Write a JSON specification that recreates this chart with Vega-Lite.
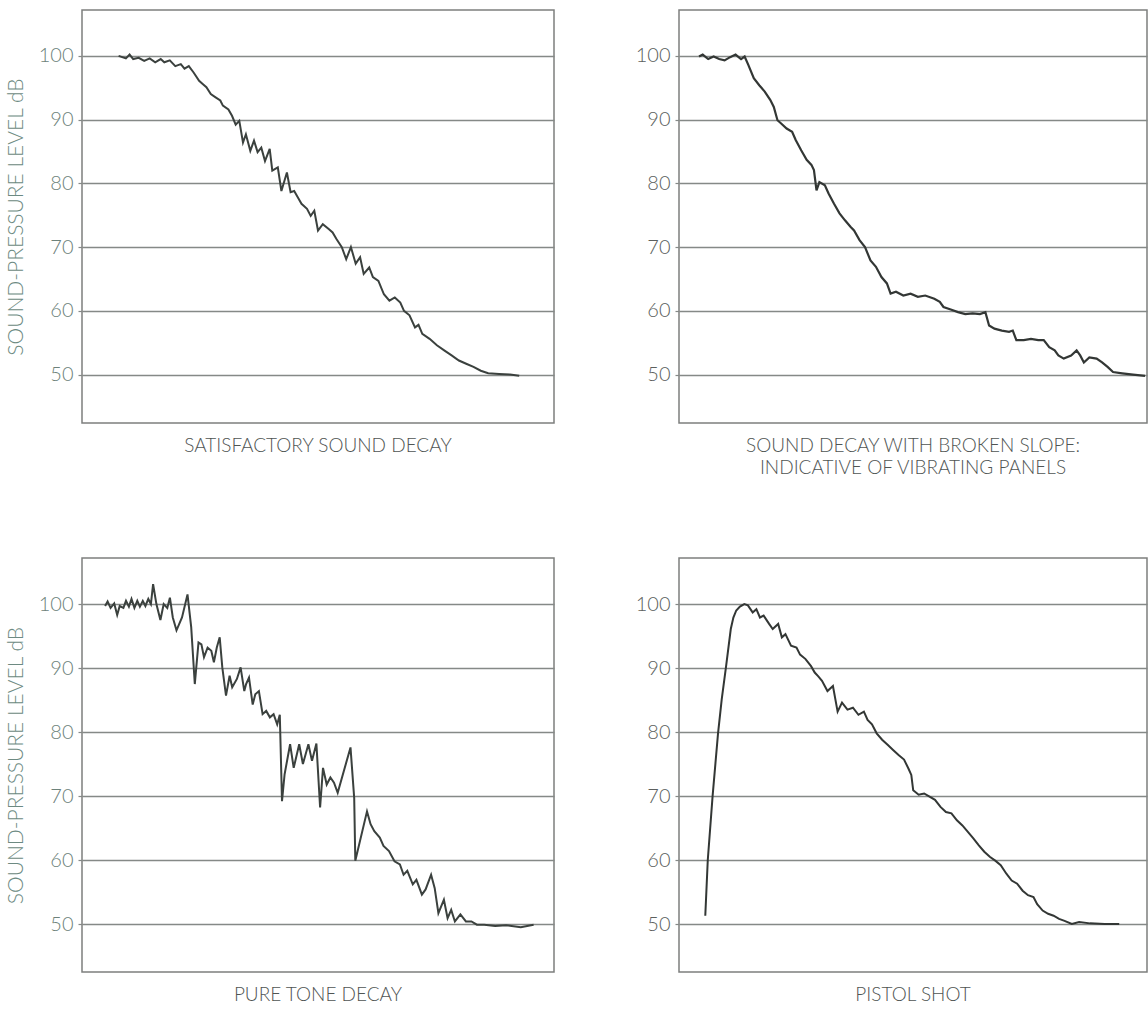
{
  "$schema": "https://vega.github.io/schema/vega-lite/v6.json",
  "padding": {"left": 4, "top": 9, "right": 0, "bottom": 0},
  "background": "white",
  "config": {
    "view": {"stroke": "#7d7f7e", "strokeWidth": 1.5},
    "axisY": {
      "grid": true,
      "gridColor": "#858987",
      "gridWidth": 1.6,
      "domain": false,
      "ticks": true,
      "tickSize": 4,
      "tickColor": "#858987",
      "tickWidth": 1.2,
      "labelPadding": 5,
      "labelFont": "Lato",
      "labelFontWeight": 300,
      "labelFontSize": 20,
      "titleFont": "Lato",
      "titleFontWeight": 300,
      "titleFontSize": 21,
      "titlePadding": 12
    },
    "title": {
      "orient": "bottom",
      "frame": "group",
      "anchor": "middle",
      "offset": 14,
      "font": "Lato",
      "fontWeight": 300,
      "fontSize": 19,
      "color": "#505553",
      "lineHeight": 22
    }
  },
  "datasets": {
    "p1": [
      {"x": 36.6, "y": 100.0}, {"x": 43.9, "y": 99.6}, {"x": 47.6, "y": 100.2}, {"x": 51.2, "y": 99.5}, {"x": 56.7, "y": 99.7}, {"x": 62.2, "y": 99.2}, {"x": 67.7, "y": 99.6}, {"x": 73.2, "y": 99.0}, {"x": 78.7, "y": 99.5}, {"x": 82.3, "y": 99.0}, {"x": 87.8, "y": 99.3}, {"x": 93.3, "y": 98.4}, {"x": 98.8, "y": 98.7}, {"x": 102.5, "y": 98.0}, {"x": 106.8, "y": 98.4}, {"x": 111.6, "y": 97.4}, {"x": 117.1, "y": 96.1}, {"x": 120.7, "y": 95.6}, {"x": 124.4, "y": 95.1}, {"x": 128.8, "y": 94.0}, {"x": 133.6, "y": 93.5}, {"x": 138.3, "y": 93.0}, {"x": 140.9, "y": 92.2}, {"x": 146.4, "y": 91.6}, {"x": 150.0, "y": 90.6}, {"x": 153.7, "y": 89.2}, {"x": 157.3, "y": 89.8}, {"x": 161.0, "y": 86.4}, {"x": 163.9, "y": 87.7}, {"x": 168.3, "y": 85.1}, {"x": 172.0, "y": 86.7}, {"x": 175.6, "y": 84.9}, {"x": 179.3, "y": 85.6}, {"x": 183.0, "y": 83.5}, {"x": 187.7, "y": 85.4}, {"x": 190.3, "y": 82.0}, {"x": 195.8, "y": 82.5}, {"x": 199.4, "y": 78.8}, {"x": 204.9, "y": 81.7}, {"x": 208.6, "y": 78.6}, {"x": 212.2, "y": 78.8}, {"x": 215.9, "y": 77.8}, {"x": 219.5, "y": 76.8}, {"x": 225.0, "y": 76.0}, {"x": 228.7, "y": 74.9}, {"x": 232.3, "y": 75.7}, {"x": 236.0, "y": 72.6}, {"x": 240.8, "y": 73.6}, {"x": 247.0, "y": 72.8}, {"x": 250.6, "y": 72.3}, {"x": 254.3, "y": 71.3}, {"x": 259.8, "y": 70.0}, {"x": 264.2, "y": 68.1}, {"x": 268.9, "y": 70.0}, {"x": 273.7, "y": 67.4}, {"x": 278.1, "y": 68.4}, {"x": 281.7, "y": 65.8}, {"x": 287.2, "y": 66.8}, {"x": 290.9, "y": 65.3}, {"x": 296.4, "y": 64.7}, {"x": 301.9, "y": 62.6}, {"x": 307.4, "y": 61.6}, {"x": 312.8, "y": 62.1}, {"x": 318.3, "y": 61.3}, {"x": 322.0, "y": 60.0}, {"x": 327.5, "y": 59.3}, {"x": 333.0, "y": 57.4}, {"x": 336.5, "y": 57.8}, {"x": 340.3, "y": 56.4}, {"x": 347.6, "y": 55.6}, {"x": 354.9, "y": 54.6}, {"x": 362.2, "y": 53.8}, {"x": 369.6, "y": 53.0}, {"x": 376.9, "y": 52.2}, {"x": 384.2, "y": 51.7}, {"x": 391.5, "y": 51.2}, {"x": 398.8, "y": 50.6}, {"x": 406.2, "y": 50.2}, {"x": 417.1, "y": 50.1}, {"x": 428.1, "y": 50.0}, {"x": 437.2, "y": 49.8}
    ],
    "p2": [
      {"x": 20.1, "y": 99.9}, {"x": 23.8, "y": 100.2}, {"x": 29.3, "y": 99.5}, {"x": 34.8, "y": 99.9}, {"x": 40.3, "y": 99.5}, {"x": 45.8, "y": 99.3}, {"x": 51.3, "y": 99.8}, {"x": 56.8, "y": 100.2}, {"x": 62.3, "y": 99.5}, {"x": 65.9, "y": 99.9}, {"x": 69.6, "y": 98.6}, {"x": 75.1, "y": 96.5}, {"x": 80.6, "y": 95.4}, {"x": 86.1, "y": 94.4}, {"x": 91.6, "y": 93.1}, {"x": 95.2, "y": 92.0}, {"x": 98.9, "y": 89.9}, {"x": 102.6, "y": 89.4}, {"x": 108.1, "y": 88.6}, {"x": 113.6, "y": 88.1}, {"x": 117.2, "y": 86.8}, {"x": 122.7, "y": 85.2}, {"x": 128.2, "y": 83.7}, {"x": 133.0, "y": 82.9}, {"x": 135.5, "y": 82.1}, {"x": 138.1, "y": 78.9}, {"x": 141.0, "y": 80.2}, {"x": 146.5, "y": 79.7}, {"x": 150.2, "y": 78.4}, {"x": 155.7, "y": 76.8}, {"x": 161.2, "y": 75.3}, {"x": 166.7, "y": 74.2}, {"x": 172.2, "y": 73.2}, {"x": 175.8, "y": 72.6}, {"x": 181.3, "y": 71.1}, {"x": 186.8, "y": 70.0}, {"x": 192.3, "y": 67.9}, {"x": 197.8, "y": 66.9}, {"x": 203.3, "y": 65.3}, {"x": 208.8, "y": 64.3}, {"x": 212.5, "y": 62.7}, {"x": 217.9, "y": 63.0}, {"x": 225.3, "y": 62.4}, {"x": 232.6, "y": 62.7}, {"x": 239.9, "y": 62.2}, {"x": 247.3, "y": 62.4}, {"x": 256.4, "y": 61.9}, {"x": 261.9, "y": 61.4}, {"x": 265.6, "y": 60.6}, {"x": 272.9, "y": 60.2}, {"x": 280.2, "y": 59.8}, {"x": 287.5, "y": 59.5}, {"x": 294.9, "y": 59.6}, {"x": 302.2, "y": 59.5}, {"x": 307.7, "y": 59.8}, {"x": 311.4, "y": 57.7}, {"x": 316.8, "y": 57.2}, {"x": 324.2, "y": 56.9}, {"x": 331.5, "y": 56.7}, {"x": 335.2, "y": 56.9}, {"x": 338.8, "y": 55.4}, {"x": 346.2, "y": 55.4}, {"x": 353.5, "y": 55.6}, {"x": 360.8, "y": 55.4}, {"x": 366.3, "y": 55.4}, {"x": 371.8, "y": 54.3}, {"x": 377.3, "y": 53.8}, {"x": 381.0, "y": 53.0}, {"x": 386.4, "y": 52.5}, {"x": 393.8, "y": 53.0}, {"x": 399.3, "y": 53.8}, {"x": 402.9, "y": 53.0}, {"x": 406.6, "y": 51.9}, {"x": 412.1, "y": 52.7}, {"x": 419.4, "y": 52.5}, {"x": 424.9, "y": 51.9}, {"x": 430.4, "y": 51.2}, {"x": 435.9, "y": 50.4}, {"x": 445.1, "y": 50.2}, {"x": 456.0, "y": 50.0}, {"x": 468.0, "y": 49.8}
    ],
    "p3": [
      {"x": 23.1, "y": 99.7}, {"x": 25.6, "y": 100.4}, {"x": 28.6, "y": 99.4}, {"x": 32.2, "y": 100.1}, {"x": 35.2, "y": 98.3}, {"x": 37.7, "y": 99.7}, {"x": 41.4, "y": 99.4}, {"x": 44.0, "y": 100.5}, {"x": 46.9, "y": 99.6}, {"x": 49.5, "y": 100.8}, {"x": 52.4, "y": 99.4}, {"x": 55.3, "y": 100.5}, {"x": 57.9, "y": 99.6}, {"x": 60.8, "y": 100.5}, {"x": 63.4, "y": 99.7}, {"x": 66.3, "y": 100.8}, {"x": 68.9, "y": 100.0}, {"x": 71.1, "y": 103.1}, {"x": 74.4, "y": 100.0}, {"x": 78.4, "y": 97.5}, {"x": 81.7, "y": 100.0}, {"x": 85.3, "y": 99.4}, {"x": 87.9, "y": 101.0}, {"x": 90.8, "y": 97.9}, {"x": 94.5, "y": 95.9}, {"x": 100.0, "y": 97.9}, {"x": 105.5, "y": 101.5}, {"x": 109.2, "y": 96.4}, {"x": 112.8, "y": 87.5}, {"x": 116.5, "y": 94.0}, {"x": 119.4, "y": 93.7}, {"x": 122.0, "y": 91.7}, {"x": 125.6, "y": 93.2}, {"x": 129.3, "y": 92.7}, {"x": 131.9, "y": 90.9}, {"x": 134.8, "y": 93.2}, {"x": 137.7, "y": 94.8}, {"x": 140.3, "y": 90.1}, {"x": 144.0, "y": 85.7}, {"x": 147.6, "y": 88.8}, {"x": 150.2, "y": 87.0}, {"x": 154.9, "y": 88.3}, {"x": 158.6, "y": 90.1}, {"x": 162.3, "y": 86.4}, {"x": 164.1, "y": 87.5}, {"x": 167.0, "y": 88.5}, {"x": 170.7, "y": 84.3}, {"x": 173.3, "y": 85.9}, {"x": 176.9, "y": 86.4}, {"x": 180.6, "y": 82.8}, {"x": 184.2, "y": 83.3}, {"x": 187.9, "y": 82.3}, {"x": 191.6, "y": 82.8}, {"x": 195.2, "y": 81.2}, {"x": 197.8, "y": 82.7}, {"x": 200.0, "y": 69.2}, {"x": 202.6, "y": 73.4}, {"x": 208.1, "y": 78.1}, {"x": 211.7, "y": 74.4}, {"x": 217.2, "y": 78.1}, {"x": 220.9, "y": 75.0}, {"x": 226.4, "y": 78.1}, {"x": 230.0, "y": 75.5}, {"x": 234.4, "y": 78.2}, {"x": 238.1, "y": 68.2}, {"x": 241.0, "y": 74.4}, {"x": 244.7, "y": 71.8}, {"x": 248.4, "y": 72.9}, {"x": 252.0, "y": 72.1}, {"x": 255.7, "y": 70.5}, {"x": 268.5, "y": 77.6}, {"x": 272.2, "y": 69.7}, {"x": 273.3, "y": 59.9}, {"x": 285.0, "y": 67.6}, {"x": 288.6, "y": 65.6}, {"x": 292.3, "y": 64.5}, {"x": 297.8, "y": 63.5}, {"x": 301.5, "y": 62.2}, {"x": 307.0, "y": 61.4}, {"x": 312.5, "y": 59.8}, {"x": 317.9, "y": 59.3}, {"x": 321.6, "y": 57.7}, {"x": 325.3, "y": 58.3}, {"x": 330.8, "y": 56.2}, {"x": 334.4, "y": 56.9}, {"x": 339.9, "y": 54.6}, {"x": 343.6, "y": 55.4}, {"x": 349.1, "y": 57.7}, {"x": 352.7, "y": 55.6}, {"x": 356.4, "y": 51.7}, {"x": 361.9, "y": 53.8}, {"x": 365.6, "y": 50.9}, {"x": 369.2, "y": 52.2}, {"x": 372.9, "y": 50.4}, {"x": 378.4, "y": 51.5}, {"x": 383.9, "y": 50.4}, {"x": 389.4, "y": 50.4}, {"x": 394.9, "y": 49.9}, {"x": 402.2, "y": 49.9}, {"x": 413.2, "y": 49.7}, {"x": 424.2, "y": 49.8}, {"x": 438.8, "y": 49.5}, {"x": 451.6, "y": 49.9}
    ],
    "p4": [
      {"x": 26.4, "y": 51.3}, {"x": 28.9, "y": 60.0}, {"x": 33.7, "y": 69.9}, {"x": 39.2, "y": 79.8}, {"x": 42.9, "y": 85.1}, {"x": 47.3, "y": 90.3}, {"x": 52.0, "y": 96.1}, {"x": 54.6, "y": 97.9}, {"x": 57.5, "y": 99.0}, {"x": 61.2, "y": 99.6}, {"x": 65.6, "y": 100.0}, {"x": 69.2, "y": 99.8}, {"x": 74.0, "y": 98.7}, {"x": 77.7, "y": 99.2}, {"x": 81.3, "y": 97.9}, {"x": 85.0, "y": 98.2}, {"x": 90.5, "y": 96.9}, {"x": 94.1, "y": 96.1}, {"x": 99.6, "y": 96.9}, {"x": 103.3, "y": 94.8}, {"x": 106.9, "y": 95.3}, {"x": 112.5, "y": 93.5}, {"x": 118.0, "y": 93.2}, {"x": 121.6, "y": 92.1}, {"x": 127.1, "y": 91.4}, {"x": 132.6, "y": 90.3}, {"x": 136.3, "y": 89.3}, {"x": 139.9, "y": 88.7}, {"x": 143.6, "y": 88.0}, {"x": 149.1, "y": 86.4}, {"x": 154.6, "y": 87.2}, {"x": 159.3, "y": 83.2}, {"x": 163.7, "y": 84.6}, {"x": 169.2, "y": 83.5}, {"x": 174.7, "y": 83.8}, {"x": 180.2, "y": 82.7}, {"x": 185.7, "y": 83.2}, {"x": 189.4, "y": 81.9}, {"x": 193.8, "y": 81.2}, {"x": 198.5, "y": 79.8}, {"x": 204.0, "y": 78.8}, {"x": 209.5, "y": 78.0}, {"x": 215.0, "y": 77.2}, {"x": 220.5, "y": 76.4}, {"x": 226.0, "y": 75.7}, {"x": 230.4, "y": 74.3}, {"x": 233.3, "y": 73.3}, {"x": 235.2, "y": 70.9}, {"x": 240.7, "y": 70.2}, {"x": 246.2, "y": 70.4}, {"x": 251.6, "y": 69.9}, {"x": 257.1, "y": 69.4}, {"x": 262.6, "y": 68.3}, {"x": 268.1, "y": 67.5}, {"x": 273.6, "y": 67.3}, {"x": 279.1, "y": 66.2}, {"x": 284.6, "y": 65.4}, {"x": 290.1, "y": 64.4}, {"x": 295.6, "y": 63.4}, {"x": 301.1, "y": 62.3}, {"x": 306.6, "y": 61.3}, {"x": 312.1, "y": 60.5}, {"x": 317.6, "y": 59.9}, {"x": 323.1, "y": 59.2}, {"x": 328.6, "y": 57.9}, {"x": 334.1, "y": 56.8}, {"x": 339.6, "y": 56.3}, {"x": 345.1, "y": 55.2}, {"x": 350.5, "y": 54.5}, {"x": 356.0, "y": 54.2}, {"x": 359.7, "y": 53.1}, {"x": 365.2, "y": 52.1}, {"x": 370.7, "y": 51.6}, {"x": 376.2, "y": 51.3}, {"x": 381.7, "y": 50.8}, {"x": 387.2, "y": 50.5}, {"x": 394.5, "y": 50.0}, {"x": 401.8, "y": 50.3}, {"x": 412.8, "y": 50.1}, {"x": 427.5, "y": 50.0}, {"x": 442.1, "y": 50.0}
    ]
  },
  "spacing": 78,
  "vconcat": [
    {
      "spacing": 79,
      "hconcat": [
        {
          "width": 472, "height": 413,
          "data": {"name": "p1"},
          "title": {"text": "SATISFACTORY SOUND DECAY"},
          "mark": {"type": "line", "color": "#3b413e", "strokeWidth": 2},
          "encoding": {
            "x": {"field": "x", "type": "quantitative", "scale": {"domain": [0, 472], "nice": false, "zero": false}, "axis": null},
            "y": {"field": "y", "type": "quantitative", "scale": {"domain": [42.4, 107.2], "nice": false, "zero": false},
                  "axis": {"values": [50, 60, 70, 80, 90, 100], "title": "SOUND-PRESSURE LEVEL dB", "labelColor": "#6d827b", "titleColor": "#6d8a82"}}
          }
        },
        {
          "width": 468, "height": 413,
          "data": {"name": "p2"},
          "title": {"text": ["SOUND DECAY WITH BROKEN SLOPE:", "INDICATIVE OF VIBRATING PANELS"]},
          "mark": {"type": "line", "color": "#333735", "strokeWidth": 2.2},
          "encoding": {
            "x": {"field": "x", "type": "quantitative", "scale": {"domain": [0, 470], "nice": false, "zero": false}, "axis": null},
            "y": {"field": "y", "type": "quantitative", "scale": {"domain": [42.4, 107.2], "nice": false, "zero": false},
                  "axis": {"values": [50, 60, 70, 80, 90, 100], "title": null, "labelColor": "#5c5f5e"}}
          }
        }
      ]
    },
    {
      "spacing": 79,
      "hconcat": [
        {
          "width": 472, "height": 414,
          "data": {"name": "p3"},
          "title": {"text": "PURE TONE DECAY"},
          "mark": {"type": "line", "color": "#3b413e", "strokeWidth": 2},
          "encoding": {
            "x": {"field": "x", "type": "quantitative", "scale": {"domain": [0, 472], "nice": false, "zero": false}, "axis": null},
            "y": {"field": "y", "type": "quantitative", "scale": {"domain": [42.5, 107.2], "nice": false, "zero": false},
                  "axis": {"values": [50, 60, 70, 80, 90, 100], "title": "SOUND-PRESSURE LEVEL dB", "labelColor": "#6d827b", "titleColor": "#6d8a82"}}
          }
        },
        {
          "width": 468, "height": 414,
          "data": {"name": "p4"},
          "title": {"text": "PISTOL SHOT"},
          "mark": {"type": "line", "color": "#333735", "strokeWidth": 2},
          "encoding": {
            "x": {"field": "x", "type": "quantitative", "scale": {"domain": [0, 470], "nice": false, "zero": false}, "axis": null},
            "y": {"field": "y", "type": "quantitative", "scale": {"domain": [42.5, 107.2], "nice": false, "zero": false},
                  "axis": {"values": [50, 60, 70, 80, 90, 100], "title": null, "labelColor": "#5c5f5e"}}
          }
        }
      ]
    }
  ]
}
